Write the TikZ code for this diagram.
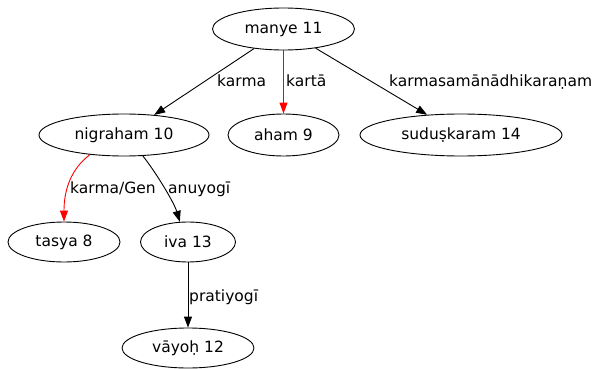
\documentclass[tikz,border=0pt]{standalone}
\usepackage{fontspec}
\setmainfont{DejaVu Sans}
\usetikzlibrary{shapes.geometric,arrows.meta}
\begin{document}
\begin{tikzpicture}[x=1pt,y=-1pt,
  word/.style={ellipse,draw,line width=0.9pt,inner sep=0pt,minimum height=42pt,font=\fontsize{15.5}{18}\selectfont},
  rel/.style={anchor=base west,inner sep=0pt,font=\fontsize{15.5}{18}\selectfont},
  dep/.style={line width=0.9pt,-{Triangle[length=11pt,width=8pt]}},
  red dep/.style={dep,draw=red,-{Triangle[length=11pt,width=8pt,fill=red]}}]
\useasboundingbox (0,0) rectangle (592,369);
% words
\node[word,minimum width=142pt] (manye) at (283.5,29) {manye 11};
\node[word,minimum width=170pt] (nig) at (124,135) {nigraham 10};
\node[word,minimum width=111pt] (aham) at (283.5,135) {aham 9};
\node[word,minimum width=202pt] (sudu) at (461,135) {suduṣkaram 14};
\node[word,minimum width=112pt,minimum height=40pt] (tasya) at (64,242) {tasya 8};
\node[word,minimum width=95pt,minimum height=40pt] (iva) at (188,242) {iva 13};
\node[word,minimum width=132pt,minimum height=40pt] (vayoh) at (188,348) {vāyoḥ 12};
% dependencies
\draw[dep] (manye) -- (nig);
\draw[red dep] (manye) -- (aham);
\draw[dep] (manye) -- (sudu);
\draw[red dep] (nig.-150) .. controls +(-20,15) and +(0,-30) .. (tasya.north);
\draw[dep] (nig.-48) .. controls +(12,15) and +(-6,-20) .. (iva.112);
\draw[dep] (iva) -- (vayoh);
% relation labels
\node[rel] (l1) at (217,87) {karma};
\node[rel] (l2) at (286,87) {kartā};
\node[rel] (l3) at (389,87) {karmasamānādhikaraṇam};
\node[rel] (l4) at (70,193) {karma/Gen};
\node[rel] (l5) at (168,193) {anuyogī};
\node[rel] (l6) at (189,301) {pratiyogī};
\end{tikzpicture}
\end{document}
